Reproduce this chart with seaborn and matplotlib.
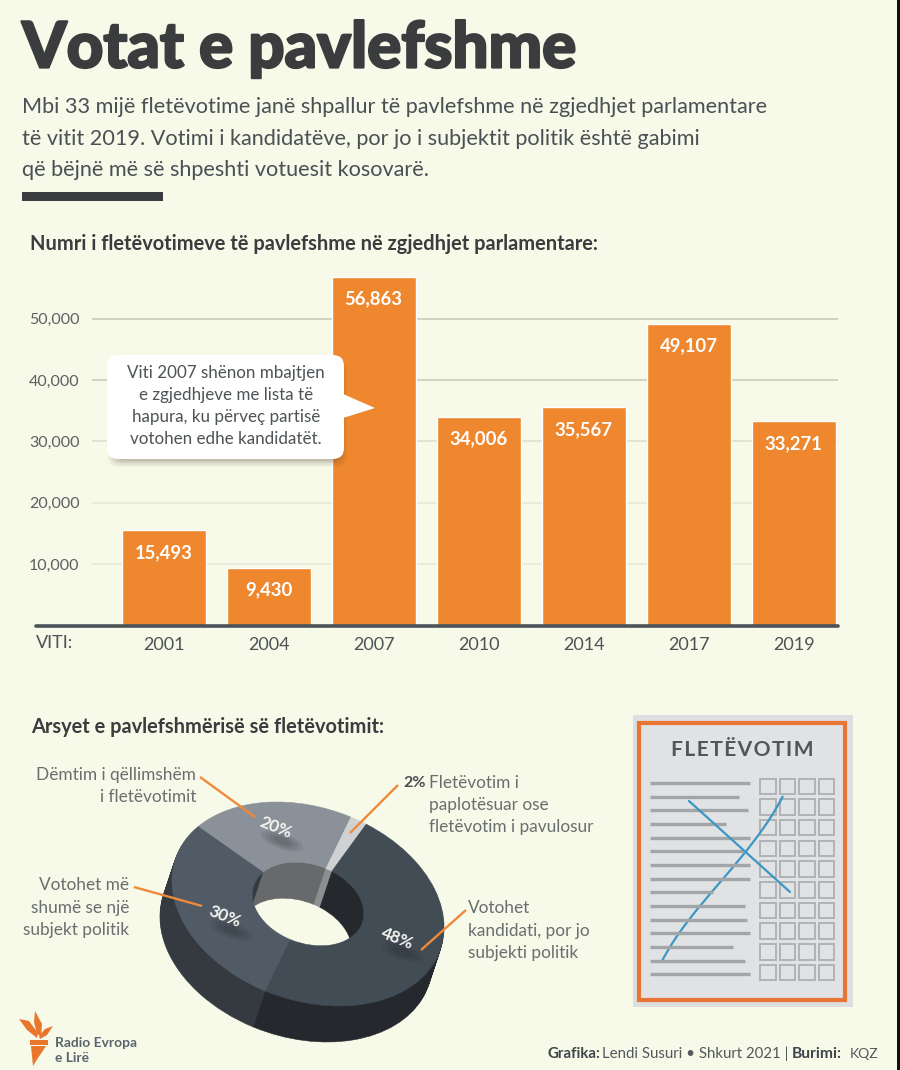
import matplotlib
matplotlib.use("Agg")
import matplotlib.pyplot as plt
import matplotlib.patheffects as pe
from matplotlib.patches import Ellipse, FancyBboxPatch, PathPatch, Polygon, Rectangle
from matplotlib.path import Path
from matplotlib.transforms import Affine2D
import numpy as np
import pandas as pd
import seaborn as sns

# chart data
years = ["2001", "2004", "2007", "2010", "2014", "2017", "2019"]
votes = [15493, 9430, 56863, 34006, 35567, 49107, 33271]
y_ticks = [10000, 20000, 30000, 40000, 50000]

reasons = ["2%", "20%", "30%", "48%"]
shares = [2, 20, 30, 48]
top_colors = ["#cfd1d2", "#8b9199", "#505b65", "#424c55"]
wall_colors = ["#8d8e8f", "#67696b", "#343a3f", "#25292e"]

BG = "#f7f9e9"
ORANGE = "#ee872e"
DARK = "#3a3c3e"
GREY = "#6a6e6f"

W, H = 900, 1070

sns.set_theme(style="white")
plt.rcParams["font.family"] = ["Lato", "DejaVu Sans"]


def pt(px):
    return px * 0.72


fig = plt.figure(figsize=(W / 100, H / 100), dpi=100, facecolor=BG)

# bar chart, axes placed in pixel terms
left, right, base, top = 92, 838, 625.5, 260
ax = fig.add_axes([left / W, 1 - base / H, (right - left) / W, (base - top) / H], facecolor="none")
df = pd.DataFrame({"year": years, "votes": votes})
sns.barplot(data=df, x="year", y="votes", color=ORANGE, saturation=1, width=0.8, ax=ax, zorder=3)
ax.set_xlim((left - 163.7) / 105, (right - 163.7) / 105)
ax.set_ylim(0, (base - top) / 61.35 * 10000)
ax.set_xlabel("")
ax.set_ylabel("")
sns.despine(ax=ax, left=True, bottom=True)
ax.set_yticks(y_ticks)
ax.set_yticklabels([f"{v:,}" for v in y_ticks])
ax.tick_params(axis="y", length=0, pad=9, labelsize=pt(16), labelcolor="#5c6061")
ax.tick_params(axis="x", length=0, pad=8, labelsize=pt(18), labelcolor="#4d5254")
ax.yaxis.grid(True, zorder=0)
ax.set_axisbelow(True)
for line, c in zip(ax.get_ygridlines(), ["#e7e9d9", "#e7e9d9", "#dde0cf", "#c9ccbb", "#c9ccbb"]):
    line.set_color(c)
    line.set_linewidth(1.2)
for i, v in enumerate(votes):
    ax.annotate(f"{v:,}", (i, v), xytext=(0, -pt(22)), textcoords="offset points", ha="center", va="center",
                color="white", fontsize=pt(18.5), fontweight="bold", zorder=5)

# everything else is drawn on a full figure layer in pixel coordinates
ov = fig.add_axes([0, 0, 1, 1], facecolor="none")


def txt(x, y, s, size, color=GREY, weight="normal", ha="left", **kw):
    return ov.text(x, y, s, fontsize=pt(size), color=color, fontweight=weight, ha=ha, va="center", **kw)


# donut: stacked pies from the bottom layer up, squeezed into the tilted ellipse
cx, cy = 308, 904
a, b, theta = 140, 96.5, np.radians(19)
depth_x, depth_y = -12, 36
layers = 36
for k in range(layers, -1, -1):
    colors = top_colors if k == 0 else wall_colors
    wedges, _ = ov.pie(shares, colors=colors, startangle=78, counterclock=True, radius=1, frame=True,
                       wedgeprops=dict(width=0.59))
    dx = depth_x * k / layers
    dy = depth_y * k / layers
    m = Affine2D(np.array([[a * np.cos(theta), b * np.sin(theta), cx + dx],
                           [a * np.sin(theta), -b * np.cos(theta), cy + dy],
                           [0, 0, 1]]))
    for w in wedges:
        w.set_transform(m + ov.transData)
        w.set_edgecolor(w.get_facecolor())
        w.set_linewidth(0.4)
        w.set_zorder(2)

ov.set_aspect("auto")
ov.set_xlim(0, W)
ov.set_ylim(H, 0)
ov.axis("off")

# soft shadows and the percent labels on the donut
for (x, y, s) in [(276, 828, "20%"), (225, 917, "30%"), (397, 939, "48%")]:
    for r in [1.0, 0.8, 0.6, 0.4]:
        ov.add_patch(Ellipse((x + 6, y + 13), 44 * r, 16 * r, angle=20, color="#22262a", alpha=0.09, lw=0, zorder=3))
    txt(x, y, s, 17, color="#f4f4f0", weight="bold", ha="center", rotation=-22, zorder=5, rotation_mode="anchor")

# leader lines
for (x0, y0, x1, y1) in [(200, 777, 255, 817), (398, 785, 350, 833), (134, 887, 202, 906), (466, 910, 421, 950)]:
    ov.plot([x0, x1], [y0, y1], color="#ee8a3a", lw=1.7, zorder=4, solid_capstyle="butt")

# headline block
title = txt(22, 49, "Votat e pavlefshme", 63.6, color=DARK, weight="black")
title.set_path_effects([pe.withStroke(linewidth=1.6, foreground=DARK)])
txt(22, 107, "Mbi 33 mijë fletëvotime janë shpallur të pavlefshme në zgjedhjet parlamentare", 21.6, color="#4a5054")
txt(22, 139, "të vitit 2019. Votimi i kandidatëve, por jo i subjektit politik është gabimi", 21.6, color="#4a5054")
txt(22, 170, "që bëjnë më së shpeshti votuesit kosovarë.", 21.6, color="#4a5054")
ov.add_patch(Rectangle((22, 192), 141, 9, color=DARK, lw=0))

txt(30, 244, "Numri i fletëvotimeve të pavlefshme në zgjedhjet parlamentare:", 20, color=DARK, weight="bold")
txt(31, 727, "Arsyet e pavlefshmërisë së fletëvotimit:", 20, color=DARK, weight="bold")

# baseline and axis caption
ov.plot([36, 838], [625.5, 625.5], color="#4b5359", lw=2.6, zorder=0.5)
txt(36, 643, "VITI:", 18, color="#4d5254")

# callout
for grow, alpha in [(7, 0.05), (5, 0.07), (3, 0.1), (1, 0.12)]:
    ov.add_patch(FancyBboxPatch((115 - grow, 368 - grow), 225 + 2 * grow, 92 + 2 * grow,
                                boxstyle="round,pad=0,rounding_size=10", color="#4a3a2a", alpha=alpha, lw=0, zorder=6))
ov.add_patch(FancyBboxPatch((107, 355), 237, 104, boxstyle="round,pad=0,rounding_size=11",
                            color="white", lw=0, zorder=7))
ov.add_patch(Polygon([(343, 394), (375, 408), (343, 418)], color="white", lw=0, zorder=7))
note = ["Viti 2007 shënon mbajtjen", "e zgjedhjeve me lista të", "hapura, ku përveç partisë", "votohen edhe kandidatët."]
for y, s in zip([373, 395, 417, 439], note):
    txt(226, y, s, 17, color="#4e5356", ha="center", zorder=8)

# donut captions
for y, s in zip([775, 797], ["Dëmtim i qëllimshëm", "i fletëvotimit"]):
    txt(196, y, s, 17.3, ha="right")
for y, s in zip([885, 908, 930], ["Votohet më", "shumë se një", "subjekt politik"]):
    txt(129, y, s, 17.3, ha="right")
for y, s in zip([908, 931, 953], ["Votohet", "kandidati, por jo", "subjekti politik"]):
    txt(468, y, s, 17.3)
txt(403, 783, "2%", 16, color="#4a4f52", weight="bold")
for y, s in zip([783, 805, 827], ["Fletëvotim i", "paplotësuar ose", "fletëvotim i pavulosur"]):
    txt(429, y, s, 17.3)

# ballot illustration
ov.add_patch(Rectangle((633, 715), 220, 292, color="#dcdee0", lw=0))
ov.add_patch(Rectangle((639, 723), 206, 277, facecolor="#e0e2e4", edgecolor="#ea7433", lw=3))
txt(742, 750, "\u200a".join("FLETËVOTIM"), 21, color="#50565b", weight="bold", ha="center")
line_ys = [783, 797, 810, 824, 838, 851, 865, 879, 892, 906, 920, 933, 947, 961, 974]
line_ends = [750, 739, 748, 726, 750, 745, 750, 750, 713, 745, 747, 750, 733, 745, 750]
for y, e in zip(line_ys, line_ends):
    ov.plot([650, e], [y, y], color="#a2a6a8", lw=2.4, solid_capstyle="butt")
for row in range(10):
    for col in range(4):
        ov.add_patch(Rectangle((760 + col * 19.6, 778.5 + row * 20.7), 15.5, 15.5, facecolor="none",
                               edgecolor="#b0b3b5", lw=1.4))
ov.plot([689, 790], [801, 892], color="#3c97c6", lw=1.6)
stroke = Path([(661, 963), (690, 905), (750, 860), (783, 796)], [Path.MOVETO, Path.CURVE4, Path.CURVE4, Path.CURVE4])
ov.add_patch(PathPatch(stroke, facecolor="none", edgecolor="#3c97c6", lw=1.6))

# logo
flame = "#e9762d"
ov.add_patch(Polygon([(35, 1011), (42, 1024), (41, 1036), (37, 1034), (34, 1022)], color=flame, lw=0))
ov.add_patch(Polygon([(19, 1019), (29, 1021), (38, 1033), (37, 1038), (27, 1030)], color=flame, lw=0))
ov.add_patch(Polygon([(53, 1026), (45, 1029), (39, 1036), (40, 1039), (47, 1035)], color=flame, lw=0))
ov.add_patch(Rectangle((30, 1040), 18, 5, color=flame, lw=0))
ov.add_patch(Polygon([(31, 1046), (46, 1046), (38, 1058), (33, 1066)], color=flame, lw=0))
txt(55, 1043, "Radio Evropa", 13.8, color="#5a646c", weight="bold")
txt(55, 1058, "e Lirë", 13.8, color="#5a646c", weight="bold")

# footer
txt(548, 1054, "Grafika:", 15, color="#3f464b", weight="bold")
txt(602, 1054, "Lendi Susuri • Shkurt 2021 |", 15, color="#53585b")
txt(792, 1054, "Burimi:", 15.5, color="#3f464b", weight="bold")
txt(850, 1054, "KQZ", 14, color="#53585b")

# dark sliver down the right edge of the source image
ov.add_patch(Rectangle((896.5, 0), 3.5, H, color="#111111", lw=0))

fig.savefig("out.png", dpi=100, facecolor=BG)
